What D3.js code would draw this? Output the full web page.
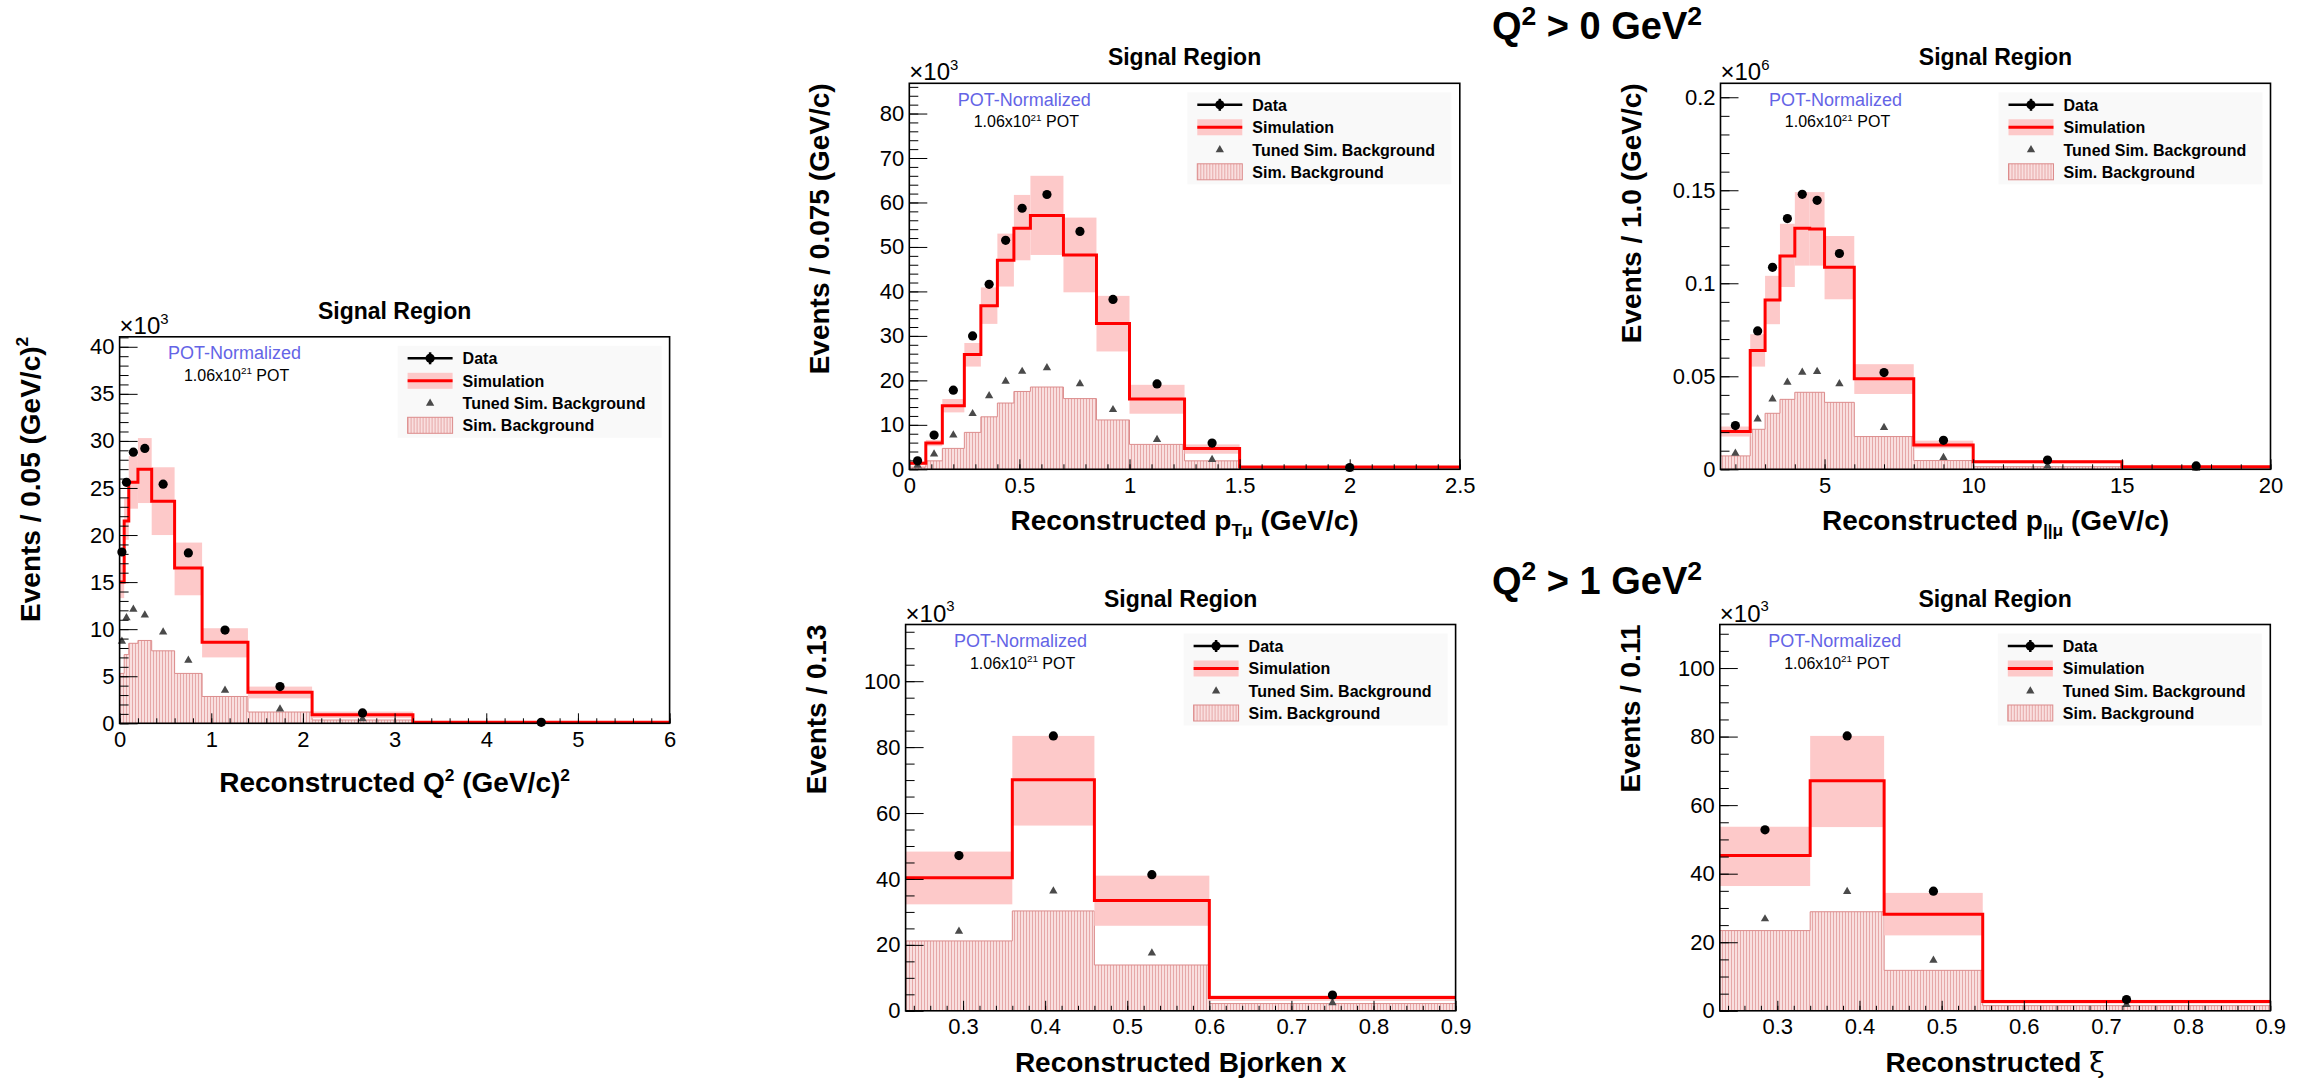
<!DOCTYPE html>
<html><head><meta charset="utf-8">
<script src="https://cdn.jsdelivr.net/npm/d3@7"></script>
<style>
body{margin:0;background:#fff}
svg{display:block}
text{font-family:"Liberation Sans",Arial,Helvetica,sans-serif}
</style>
</head><body>
<svg id="c" width="2313" height="1081"></svg>
<script>
// ---------- Q^2 panel ----------
const q2Edges = [0, 0.05, 0.1, 0.2, 0.35, 0.6, 0.9, 1.4, 2.1, 3.2, 6];
const q2Data  = [18.2, 25.6, 28.8, 29.2, 25.4, 18.1, 9.9, 3.9, 1.1, 0.1];
const q2Sim   = [15.0, 21.5, 25.6, 27.0, 23.6, 16.5, 8.6, 3.3, 0.9, 0.1];
const q2Hi    = [17.0, 23.9, 28.4, 30.3, 27.2, 19.2, 10.1, 3.9, 1.25, 0.15];
const q2Lo    = [13.3, 19.5, 22.8, 23.4, 20.0, 13.6, 7.0, 2.65, 0.55, 0.05];
const q2Bkg   = [5.3, 7.3, 8.5, 8.8, 7.7, 5.3, 2.85, 1.2, 0.35, 0.05];
const q2Tuned = [8.7, 11.2, 12.1, 11.5, 9.7, 6.7, 3.5, 1.5, 0.46, 0.05];
const q2XTicks = [0, 1, 2, 3, 4, 5, 6];
const q2YTicks = [0, 5, 10, 15, 20, 25, 30, 35, 40];

// ---------- pT panel ----------
const ptEdges = [0, 0.075, 0.15, 0.25, 0.325, 0.4, 0.475, 0.55, 0.7, 0.85, 1.0, 1.25, 1.5, 2.5];
const ptData  = [1.9, 7.7, 17.8, 30.0, 41.6, 51.5, 58.7, 61.8, 53.5, 38.2, 19.2, 5.9, 0.4];
const ptSim   = [1.35, 5.9, 14.3, 25.8, 36.8, 47.0, 54.2, 57.1, 48.2, 32.8, 15.8, 4.7, 0.5];
const ptHi    = [1.8, 6.6, 15.8, 28.4, 40.9, 53.0, 61.7, 66.0, 56.6, 39.0, 19.0, 5.6, 0.6];
const ptLo    = [0.9, 5.2, 12.8, 23.1, 32.7, 41.1, 47.0, 48.2, 39.8, 26.5, 12.5, 3.5, 0.3];
const ptBkg   = [0.5, 1.9, 4.7, 8.3, 11.8, 14.9, 17.5, 18.5, 15.9, 11.1, 5.6, 1.9, 0.1];
const ptTuned = [0.9, 3.4, 7.7, 12.5, 16.5, 19.8, 22.0, 22.8, 19.2, 13.4, 6.7, 2.2, 0.1];
const ptXTicks = [0, 0.5, 1, 1.5, 2, 2.5];
const ptYTicks = [0, 10, 20, 30, 40, 50, 60, 70, 80];

// ---------- p|| panel ----------
const pzEdges = [1.5, 2.5, 3, 3.5, 4, 4.5, 5, 6, 8, 10, 15, 20];
const pzData  = [0.0235, 0.0744, 0.1086, 0.1348, 0.1478, 0.1446, 0.116, 0.052, 0.0156, 0.005, 0.0018];
const pzSim   = [0.0203, 0.0638, 0.091, 0.1147, 0.1296, 0.1292, 0.1086, 0.0487, 0.0131, 0.0041, 0.0014];
const pzHi    = [0.023, 0.0726, 0.104, 0.132, 0.149, 0.149, 0.1254, 0.0565, 0.0154, 0.005, 0.0017];
const pzLo    = [0.0176, 0.0552, 0.078, 0.098, 0.1095, 0.1095, 0.0914, 0.0405, 0.0113, 0.0032, 0.0011];
const pzBkg   = [0.0072, 0.0215, 0.0301, 0.0376, 0.0414, 0.0414, 0.036, 0.0176, 0.0047, 0.0014, 0.0005];
const pzTuned = [0.0086, 0.027, 0.0378, 0.0468, 0.0521, 0.0525, 0.046, 0.0224, 0.0063, 0.0018, 0.0005];
const pzXTicks = [5, 10, 15, 20];
const pzYTicks = [0, 0.05, 0.1, 0.15, 0.2];

// ---------- Bjorken x panel ----------
const bxEdges = [0.23, 0.36, 0.46, 0.6, 0.9];
const bxData  = [47.1, 83.4, 41.3, 4.8];
const bxSim   = [40.4, 70.1, 33.5, 4.0];
const bxHi    = [48.3, 83.4, 41.0, 4.7];
const bxLo    = [32.3, 56.2, 25.8, 3.0];
const bxBkg   = [21.2, 30.3, 13.9, 2.2];
const bxTuned = [24.1, 36.3, 17.5, 2.4];
const bxXTicks = [0.3, 0.4, 0.5, 0.6, 0.7, 0.8, 0.9];
const bxYTicks = [0, 20, 40, 60, 80, 100];

// ---------- xi panel ----------
const xiEdges = [0.23, 0.34, 0.43, 0.55, 0.9];
const xiData  = [52.8, 80.2, 34.9, 3.3];
const xiSim   = [45.3, 67.1, 28.2, 2.7];
const xiHi    = [53.7, 80.2, 34.4, 3.2];
const xiLo    = [36.4, 53.6, 22.0, 2.1];
const xiBkg   = [23.4, 28.9, 11.8, 1.5];
const xiTuned = [26.8, 34.8, 14.7, 1.8];
const xiXTicks = [0.3, 0.4, 0.5, 0.6, 0.7, 0.8, 0.9];
const xiYTicks = [0, 20, 40, 60, 80, 100];

const legendLabels = ["Data", "Simulation", "Tuned Sim. Background", "Sim. Background"];
const headerTexts = ["0", "1"];

const svg = d3.select("#c");
const defs = svg.append("defs");
const pat = defs.append("pattern").attr("id", "hatch").attr("patternUnits", "userSpaceOnUse")
  .attr("width", 3).attr("height", 3);
pat.append("rect").attr("width", 3).attr("height", 3).attr("fill", "#f9dfdf");
pat.append("line").attr("x1", 0.5).attr("y1", 0).attr("x2", 0.5).attr("y2", 3)
  .attr("stroke", "#e6a8a8").attr("stroke-width", 1);

const panels = [
  {edges: q2Edges, data: q2Data, sim: q2Sim, hi: q2Hi, lo: q2Lo, bkg: q2Bkg, tuned: q2Tuned,
   xTicks: q2XTicks, yTicks: q2YTicks, xMinor: 0.2, yMinor: 1, yMax: 41.06, exp: "3",
   left: 119.6, top: 336.8, w: 550, h: 386.5, xtOff: 69,
   ytitle: [["Events / 0.05 (GeV/c)"], ["2", "sup"]],
   xtitle: [["Reconstructed Q"], ["2", "sup"], [" (GeV/c)"], ["2", "sup"]]},
  {edges: ptEdges, data: ptData, sim: ptSim, hi: ptHi, lo: ptLo, bkg: ptBkg, tuned: ptTuned,
   xTicks: ptXTicks, yTicks: ptYTicks, xMinor: 0.1, yMinor: 2, yMax: 86.8, exp: "3",
   left: 909.3, top: 83.3, w: 550.5, h: 386, xtOff: 61,
   ytitle: [["Events / 0.075 (GeV/c)"]],
   xtitle: [["Reconstructed p"], ["Tμ", "sub"], [" (GeV/c)"]]},
  {edges: pzEdges, data: pzData, sim: pzSim, hi: pzHi, lo: pzLo, bkg: pzBkg, tuned: pzTuned,
   xTicks: pzXTicks, yTicks: pzYTicks, xMinor: 1, yMinor: 0.01, yMax: 0.2075, exp: "6",
   left: 1720.5, top: 83.3, w: 550, h: 386, xtOff: 61,
   ytitle: [["Events / 1.0 (GeV/c)"]],
   xtitle: [["Reconstructed p"], ["||μ", "sub"], [" (GeV/c)"]]},
  {edges: bxEdges, data: bxData, sim: bxSim, hi: bxHi, lo: bxLo, bkg: bxBkg, tuned: bxTuned,
   xTicks: bxXTicks, yTicks: bxYTicks, xMinor: 0.02, yMinor: 5, yMax: 117.2, exp: "3",
   left: 905.6, top: 624.5, w: 550, h: 386.3, xtOff: 61,
   ytitle: [["Events / 0.13"]],
   xtitle: [["Reconstructed Bjorken x"]]},
  {edges: xiEdges, data: xiData, sim: xiSim, hi: xiHi, lo: xiLo, bkg: xiBkg, tuned: xiTuned,
   xTicks: xiXTicks, yTicks: xiYTicks, xMinor: 0.02, yMinor: 5, yMax: 112.7, exp: "3",
   left: 1719.8, top: 624.5, w: 550.5, h: 386.3, xtOff: 61,
   ytitle: [["Events / 0.11"]],
   xtitle: [["Reconstructed "], ["ξ", "greek"]]}
];

function rich(textSel, parts, fs, supScale = 0.62, supShift = 0.42) {
  let shift = 0;
  parts.forEach(([t, kind]) => {
    const ts = textSel.append("tspan").text(t);
    let target = 0;
    if (kind === "sup") { ts.attr("font-size", fs * supScale); target = -fs * supShift; }
    else if (kind === "sub") { ts.attr("font-size", fs * 0.62); target = fs * 0.22; }
    else if (kind === "greek") { ts.attr("font-family", "'DejaVu Serif','Liberation Serif',serif").attr("font-weight", "normal"); }
    ts.attr("dy", target - shift);
    shift = target;
  });
}

function fmt(v) { return String(+v.toFixed(4)); }

function minorVals(dom, step) {
  const out = [];
  const s = Math.ceil(dom[0] / step - 1e-6);
  const e = Math.floor(dom[1] / step + 1e-6);
  for (let k = s; k <= e; k++) out.push(+(k * step).toFixed(6));
  return out;
}

panels.forEach((p, i) => {
  const g = svg.append("g");
  const xDom = [p.edges[0], p.edges[p.edges.length - 1]];
  const x = d3.scaleLinear().domain(xDom).range([p.left, p.left + p.w]);
  const y = d3.scaleLinear().domain([0, p.yMax]).range([p.top + p.h, p.top]);
  const clipId = "clip" + i;
  defs.append("clipPath").attr("id", clipId).append("rect")
    .attr("x", p.left).attr("y", p.top).attr("width", p.w).attr("height", p.h);
  const plot = g.append("g").attr("clip-path", `url(#${clipId})`);

  const bins = p.sim.map((v, j) => ({x0: p.edges[j], x1: p.edges[j + 1], data: p.data[j], sim: v,
    hi: p.hi[j], lo: p.lo[j], bkg: p.bkg[j], tuned: p.tuned[j]}));
  const line = d3.line().x(d => x(d[0])).y(d => y(d[1]));

  // background hatched histogram
  const bkgPts = [[xDom[0], 0]];
  bins.forEach(b => { bkgPts.push([b.x0, b.bkg], [b.x1, b.bkg]); });
  bkgPts.push([xDom[1], 0]);
  plot.append("path").attr("d", line(bkgPts) + "Z").attr("fill", "url(#hatch)")
    .attr("stroke", "#dc8c8c").attr("stroke-width", 1);

  // error band
  plot.selectAll(".band").data(bins).join("rect").attr("class", "band")
    .attr("x", b => x(b.x0)).attr("width", b => x(b.x1) - x(b.x0))
    .attr("y", b => y(b.hi)).attr("height", b => y(b.lo) - y(b.hi))
    .attr("fill", "#fdc9c9");

  // simulation step line
  const simPts = [];
  bins.forEach(b => simPts.push([b.x0, b.sim], [b.x1, b.sim]));
  plot.append("path").attr("d", line(simPts)).attr("fill", "none")
    .attr("stroke", "#ff0000").attr("stroke-width", 3);

  // tuned background triangles
  g.selectAll(".tri").data(bins).join("path").attr("class", "tri")
    .attr("transform", b => `translate(${x((b.x0 + b.x1) / 2)},${y(b.tuned)})`)
    .attr("d", d3.symbol(d3.symbolTriangle, 30)).attr("fill", "#4a4a4a");

  // data points
  g.selectAll(".pt").data(bins).join("circle").attr("class", "pt")
    .attr("cx", b => x((b.x0 + b.x1) / 2)).attr("cy", b => y(b.data))
    .attr("r", 4.6).attr("fill", "#000");

  // axes
  const bottom = p.top + p.h;
  const styleAxis = s => {
    s.select(".domain").remove();
    s.selectAll("line").attr("stroke", "#000").attr("stroke-width", 1);
    s.selectAll("text").attr("font-family", "'Liberation Sans',Arial,sans-serif").attr("font-size", 22).attr("fill", "#000");
  };
  g.append("g").attr("transform", `translate(0,${bottom})`)
    .call(d3.axisBottom(x).tickValues(minorVals(xDom, p.xMinor)).tickSizeInner(-5).tickSizeOuter(0).tickFormat(""))
    .call(styleAxis);
  g.append("g").attr("transform", `translate(0,${bottom})`)
    .call(d3.axisBottom(x).tickValues(p.xTicks).tickSizeInner(-10).tickSizeOuter(0).tickPadding(8).tickFormat(fmt))
    .call(styleAxis);
  g.append("g").attr("transform", `translate(${p.left},0)`)
    .call(d3.axisLeft(y).tickValues(minorVals([0, p.yMax], p.yMinor)).tickSizeInner(-9).tickSizeOuter(0).tickFormat(""))
    .call(styleAxis);
  g.append("g").attr("transform", `translate(${p.left},0)`)
    .call(d3.axisLeft(y).tickValues(p.yTicks).tickSizeInner(-18).tickSizeOuter(0).tickPadding(5).tickFormat(fmt))
    .call(styleAxis);

  // frame
  g.append("rect").attr("x", p.left).attr("y", p.top).attr("width", p.w).attr("height", p.h)
    .attr("fill", "none").attr("stroke", "#000").attr("stroke-width", 1.6);

  // exponent label
  const ex = g.append("text").attr("x", p.left).attr("y", p.top - 3).attr("font-size", 24);
  rich(ex, [["×10"], [p.exp, "sup"]], 24);

  // panel title
  g.append("text").attr("x", p.left + p.w / 2).attr("y", p.top - 18).attr("text-anchor", "middle")
    .attr("font-size", 23).attr("font-weight", "bold").text("Signal Region");

  // POT texts
  g.append("text").attr("x", p.left + 115).attr("y", p.top + 22.5).attr("text-anchor", "middle")
    .attr("font-size", 18).attr("fill", "#6464e6").text("POT-Normalized");
  const pot = g.append("text").attr("x", p.left + 117).attr("y", p.top + 44).attr("text-anchor", "middle")
    .attr("font-size", 16).attr("fill", "#000");
  rich(pot, [["1.06x10"], ["21", "sup"], [" POT"]], 16);

  // legend
  const L = g.append("g").attr("transform", `translate(${p.left},${p.top})`);
  L.append("rect").attr("x", 278).attr("y", 9).attr("width", 264).attr("height", 92).attr("fill", "#f9f9f9");
  const rows = [21.5, 44, 66.5, 88.5];
  // Data
  L.append("line").attr("x1", 288).attr("x2", 333).attr("y1", rows[0]).attr("y2", rows[0]).attr("stroke", "#000").attr("stroke-width", 2.5);
  L.append("line").attr("x1", 310.5).attr("x2", 310.5).attr("y1", rows[0] - 6).attr("y2", rows[0] + 6).attr("stroke", "#000").attr("stroke-width", 2.5);
  L.append("circle").attr("cx", 310.5).attr("cy", rows[0]).attr("r", 4.6).attr("fill", "#000");
  // Simulation
  L.append("rect").attr("x", 288).attr("y", rows[1] - 8).attr("width", 45).attr("height", 16).attr("fill", "#fdc9c9");
  L.append("line").attr("x1", 288).attr("x2", 333).attr("y1", rows[1]).attr("y2", rows[1]).attr("stroke", "#ff0000").attr("stroke-width", 3);
  // Tuned
  L.append("path").attr("transform", `translate(310.5,${rows[2]})`).attr("d", d3.symbol(d3.symbolTriangle, 30)).attr("fill", "#4a4a4a");
  // Sim background
  L.append("rect").attr("x", 288).attr("y", rows[3] - 8).attr("width", 45).attr("height", 16)
    .attr("fill", "url(#hatch)").attr("stroke", "#dc8c8c").attr("stroke-width", 1);
  L.selectAll(".lt").data(legendLabels).join("text").attr("class", "lt")
    .attr("x", 343).attr("y", (d, k) => rows[k]).attr("dy", "0.36em")
    .attr("font-size", 16).attr("font-weight", "bold").text(d => d);

  // axis titles
  const xt = g.append("text").attr("x", p.left + p.w / 2).attr("y", bottom + p.xtOff)
    .attr("text-anchor", "middle").attr("font-size", 28).attr("font-weight", "bold");
  rich(xt, p.xtitle, 28);
  const yt = g.append("text").attr("transform", `translate(${p.left - 80},${p.top}) rotate(-90)`)
    .attr("text-anchor", "end").attr("font-size", 28).attr("font-weight", "bold");
  rich(yt, p.ytitle, 28);
});

// headers
[[39, headerTexts[0]], [594, headerTexts[1]]].forEach(([yy, v]) => {
  const t = svg.append("text").attr("x", 1597).attr("y", yy).attr("text-anchor", "middle")
    .attr("font-size", 38).attr("font-weight", "bold");
  rich(t, [["Q"], ["2", "sup"], [" > " + v + " GeV"], ["2", "sup"]], 38, 0.7, 0.36);
});
</script>
</body></html>
